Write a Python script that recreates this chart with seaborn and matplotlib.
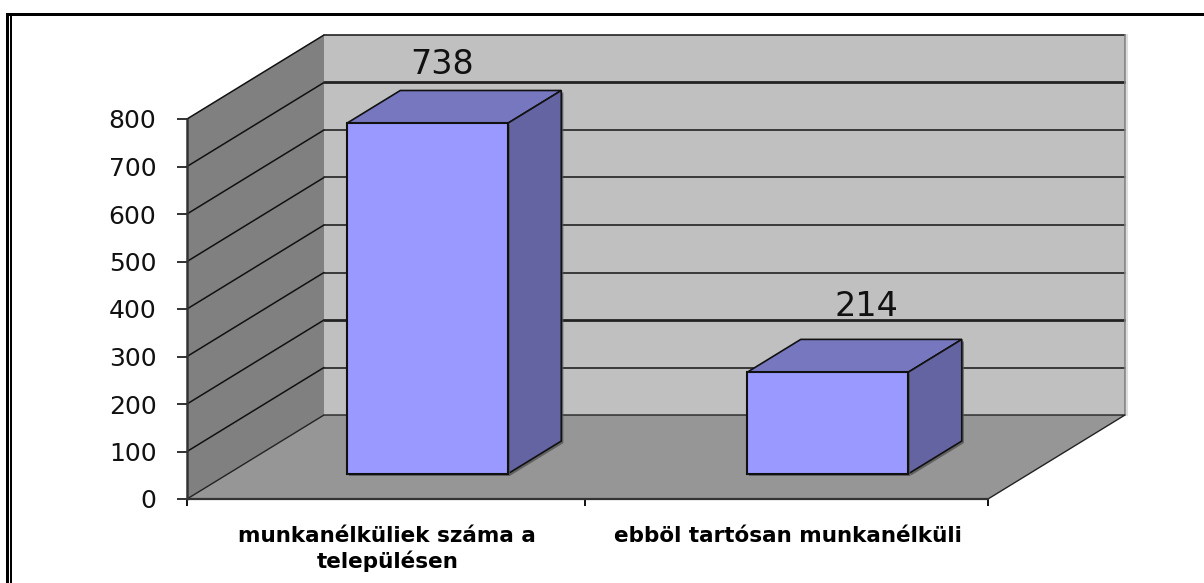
import numpy as np
import pandas as pd
import matplotlib.pyplot as plt
import matplotlib.patheffects as pe
import seaborn as sns
from matplotlib.patches import Polygon, Rectangle
from matplotlib.ticker import FixedLocator, NullFormatter

# Chart data
categories = ['munkanélküliek száma a\ntelepülésen', 'ebböl tartósan munkanélküli']
values = [738, 214]
y_ticks = [0, 100, 200, 300, 400, 500, 600, 700, 800]

# Fake 3D look: how far the back wall is moved from the front plane, in data units
DEPTH_X = 137 / 400.5
DEPTH_Y = 84 / 0.475
BAR_WIDTH = 0.402
BAR_NEAR = 0.30
BAR_FAR = 0.69
BAR_SHIFT = -0.0025

WALL = '#c0c0c0'
SIDE_WALL = '#808080'
FLOOR = '#969696'
BAR_FRONT = '#9999ff'
BAR_TOP = '#7777c0'
BAR_SIDE = '#6464a3'


def proj(x, v, d):
    return x + DEPTH_X * d, v + DEPTH_Y * d


sns.set_theme(style='white')
plt.rcParams['font.family'] = ['DejaVu Sans']

fig = plt.figure(figsize=(12.04, 5.83), dpi=100)
ax = fig.add_axes([187 / 1204, 1 - 499 / 583, 801 / 1204, 380 / 583])

df = pd.DataFrame({'pos': np.arange(len(values)) + DEPTH_X * BAR_NEAR + BAR_SHIFT, 'value': values})

# Walls and floor
left, right, top = -0.5, 1.5, y_ticks[-1]
ax.add_patch(Polygon([proj(left, 0, 1), proj(right, 0, 1), proj(right, top, 1), proj(left, top, 1)],
                     fc=WALL, ec='none', clip_on=False, zorder=1))
ax.add_patch(Polygon([proj(left, 0, 0), proj(left, 0, 1), proj(left, top, 1), proj(left, top, 0)],
                     fc=SIDE_WALL, ec='none', clip_on=False, zorder=1))
ax.add_patch(Polygon([proj(left, 0, 0), proj(right, 0, 0), proj(right, 0, 1), proj(left, 0, 1)],
                     fc=FLOOR, ec='none', clip_on=False, zorder=1.5))

# Gridlines run along the side wall and then the back wall
for t in y_ticks[1:]:
    thick = 2.0 if t in (200, 700) else 1.2
    ax.plot(*zip(proj(left, t, 0), proj(left, t, 1)), color='#111111', lw=1.1, clip_on=False, zorder=1.2)
    ax.plot(*zip(proj(left, t, 1), proj(right, t, 1)), color='#222222', lw=thick, clip_on=False, zorder=1.2)
ax.plot(*zip(proj(left, 0, 0), proj(left, 0, 1), proj(right, 0, 1), proj(right, 0, 0)),
        color='#222222', lw=1.0, clip_on=False, zorder=1.6)
ax.plot(*zip(proj(right, 0, 1), proj(right, top, 1)), color='#808080', lw=1.2, clip_on=False, zorder=1.3)
ax.plot(*zip(proj(right + 0.004, 0, 1), proj(right + 0.004, top, 1)), color='#dddddd', lw=1.5, clip_on=False, zorder=1.3)
ax.plot(*zip(proj(left, 0, 0), proj(left, top, 0)), color='#333333', lw=1.8, clip_on=False, zorder=1.7)
ax.plot(*zip(proj(left, 0, 0), proj(right, 0, 0)), color='#333333', lw=1.6, clip_on=False, zorder=1.7)

shadow = [pe.SimplePatchShadow(offset=(1.5, -1.5), shadow_rgbFace='#555555', alpha=0.8), pe.Normal()]

# Top and right side of the bars
for i, v in enumerate(values):
    x0 = i + BAR_SHIFT - BAR_WIDTH / 2
    x1 = i + BAR_SHIFT + BAR_WIDTH / 2
    ax.add_patch(Polygon([proj(x0, v, BAR_NEAR), proj(x1, v, BAR_NEAR), proj(x1, v, BAR_FAR), proj(x0, v, BAR_FAR)],
                         fc=BAR_TOP, ec='#111111', lw=1.2, clip_on=False, zorder=2, path_effects=shadow))
    ax.add_patch(Polygon([proj(x1, 0, BAR_NEAR), proj(x1, 0, BAR_FAR), proj(x1, v, BAR_FAR), proj(x1, v, BAR_NEAR)],
                         fc=BAR_SIDE, ec='#111111', lw=1.2, clip_on=False, zorder=2, path_effects=shadow))

# Front faces
n_before = len(ax.patches)
sns.barplot(data=df, x='pos', y='value', native_scale=True, width=BAR_WIDTH, color=BAR_FRONT, saturation=1,
            bottom=DEPTH_Y * BAR_NEAR, edgecolor='#111111', linewidth=1.5, zorder=3, ax=ax)
for bar in ax.patches[n_before:]:
    bar.set_path_effects(shadow)

# Value labels
label_dx = [14.5, 39]
label_dy = [16, 23]
for i, v in enumerate(values):
    x, y = proj(i + BAR_SHIFT, v, BAR_FAR)
    ax.annotate(str(v), (proj(i + BAR_SHIFT, v, BAR_NEAR)[0], y), xytext=(label_dx[i] * 0.72, label_dy[i] * 0.72),
                textcoords='offset points', ha='center', va='baseline', fontsize=24, color='#111111',
                annotation_clip=False, zorder=4)

ax.set_xlim(left, right)
ax.set_ylim(0, top)
ax.set_xlabel('')
ax.set_ylabel('')
sns.despine(ax=ax, left=True, bottom=True)
ax.patch.set_visible(False)

ax.set_yticks(y_ticks)
ax.tick_params(axis='y', which='major', left=True, length=7, width=1.2, color='#111111', pad=15,
               labelsize=18, labelcolor='#111111')

# Ticks at category edges, labels at category centres
ax.xaxis.set_major_locator(FixedLocator([left, 0.495, right]))
ax.xaxis.set_major_formatter(NullFormatter())
ax.set_xticks([0, 1], categories, minor=True, fontsize=15.5, fontweight='bold', color='black', linespacing=1.25)
ax.tick_params(axis='x', which='major', bottom=True, length=5, width=1.4, color='#111111')
ax.tick_params(axis='x', which='minor', bottom=False, pad=15.5)

# Double frame, open on the right
fig.add_artist(Rectangle((6 / 1204, 0), 2.5 / 1204, 1 - 13 / 583, transform=fig.transFigure, fc='black', ec='none'))
fig.add_artist(Rectangle((10 / 1204, 0), 2 / 1204, 1 - 16 / 583, transform=fig.transFigure, fc='black', ec='none'))
fig.add_artist(Rectangle((6 / 1204, 1 - 16 / 583), 1198 / 1204, 3 / 583, transform=fig.transFigure, fc='black', ec='none'))

fig.savefig('out.png', dpi=100)
